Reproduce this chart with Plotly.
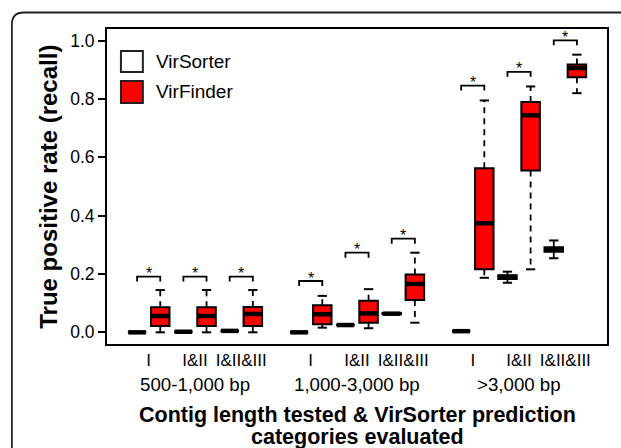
import plotly.graph_objects as go

# ---------------- data ----------------
groups = ["500-1,000 bp", "1,000-3,000 bp", ">3,000 bp"]
categories = ["I", "I&II", "I&II&III"]
series_names = ["VirSorter", "VirFinder"]

# order: group1 (I, I&II, I&II&III), group2 (...), group3 (...)
vs_min = [0.000, 0.002, 0.005, 0.000, 0.025, 0.064, 0.004, 0.170, 0.254]
vs_q1 = [0.000, 0.002, 0.005, 0.000, 0.025, 0.062, 0.004, 0.183, 0.276]
vs_med = [0.000, 0.002, 0.005, 0.000, 0.025, 0.064, 0.004, 0.190, 0.284]
vs_q3 = [0.000, 0.002, 0.005, 0.000, 0.025, 0.066, 0.004, 0.196, 0.292]
vs_max = [0.000, 0.002, 0.005, 0.000, 0.025, 0.064, 0.004, 0.208, 0.315]

vf_min = [0.000, 0.000, 0.000, 0.016, 0.014, 0.033, 0.187, 0.216, 0.820]
vf_q1 = [0.022, 0.022, 0.022, 0.028, 0.033, 0.111, 0.216, 0.555, 0.875]
vf_med = [0.056, 0.056, 0.063, 0.062, 0.065, 0.166, 0.374, 0.744, 0.906]
vf_q3 = [0.086, 0.086, 0.087, 0.093, 0.108, 0.198, 0.563, 0.790, 0.918]
vf_max = [0.145, 0.145, 0.145, 0.125, 0.148, 0.273, 0.795, 0.843, 0.952]

# significance bracket heights (one per VirSorter/VirFinder pair)
bracket_y = [0.191, 0.191, 0.191, 0.176, 0.273, 0.321, 0.846, 0.893, 1.001]

y_ticks = [0.0, 0.2, 0.4, 0.6, 0.8, 1.0]

# ---------------- layout helpers ----------------
FONT = "Liberation Sans, Arial, Helvetica, sans-serif"
W, H = 621, 448
L, R, T, B = 107, 12, 29, 104
PW, PH = W - L - R, H - T - B


def px2x(px):
    return (px - L) / PW


def py2y(py):
    return (H - B - py) / PH


BOXW = 0.8
x_vs, x_vf, x_mid = [], [], []
for g in range(len(groups)):
    for c in range(len(categories)):
        p = 1 + 7 * g + 2 * c
        x_vs.append(p)
        x_vf.append(p + 1)
        x_mid.append(p + 0.5)
group_centers = [sum(x_mid[3 * g:3 * g + 3]) / 3 for g in range(len(groups))]

fig = go.Figure()


def seg_lines(xs, y0s, y1s):
    X, Y = [], []
    for x, a, b in zip(xs, y0s, y1s):
        X += [x, x, None]
        Y += [a, b, None]
    return X, Y


def hsegs(xs, ys, half):
    X, Y = [], []
    for x, y in zip(xs, ys):
        X += [x - half, x + half, None]
        Y += [y, y, None]
    return X, Y


for xs, mn, q1, md, q3, mx, fill in [
    (x_vs, vs_min, vs_q1, vs_med, vs_q3, vs_max, "white"),
    (x_vf, vf_min, vf_q1, vf_med, vf_q3, vf_max, "#ff0000"),
]:
    # dashed whiskers
    X1, Y1 = seg_lines(xs, q3, mx)
    X2, Y2 = seg_lines(xs, q1, mn)
    fig.add_trace(go.Scatter(x=X1 + X2, y=Y1 + Y2, mode="lines",
                             line=dict(color="black", width=1.8, dash="6px,5px"),
                             hoverinfo="skip", showlegend=False))
    # caps (staples)
    X3, Y3 = hsegs(xs, mx, BOXW / 4)
    X4, Y4 = hsegs(xs, mn, BOXW / 4)
    fig.add_trace(go.Scatter(x=X3 + X4, y=Y3 + Y4, mode="lines",
                             line=dict(color="black", width=2),
                             hoverinfo="skip", showlegend=False))
    # box bodies
    fig.add_trace(go.Box(x=xs, q1=q1, median=md, q3=q3,
                         lowerfence=q1, upperfence=q3,
                         width=BOXW, fillcolor=fill,
                         line=dict(color="black", width=2),
                         whiskerwidth=0, boxpoints=False,
                         hoverinfo="skip", showlegend=False))
    # thick medians
    X5, Y5 = hsegs(xs, md, BOXW / 2 - 0.02)
    fig.add_trace(go.Scatter(x=X5, y=Y5, mode="lines",
                             line=dict(color="black", width=4.5),
                             hoverinfo="skip", showlegend=False))

# significance brackets
LEG = 0.017
BX, BY = [], []
for a, b, y in zip(x_vs, x_vf, bracket_y):
    BX += [a, a, b, b, None]
    BY += [y - LEG, y, y, y - LEG, None]
fig.add_trace(go.Scatter(x=BX, y=BY, mode="lines",
                         line=dict(color="black", width=1.8),
                         hoverinfo="skip", showlegend=False))

annotations = []
for xm, y in zip(x_mid, bracket_y):
    annotations.append(dict(x=xm, y=y, xref="x", yref="y", text="*",
                            showarrow=False, yanchor="middle", yshift=3,
                            font=dict(family=FONT, size=16, color="black")))

# group labels
for gc, gname in zip(group_centers, groups):
    annotations.append(dict(x=gc, y=py2y(384), xref="x", yref="paper",
                            text=gname, showarrow=False, yanchor="middle",
                            font=dict(family=FONT, size=18.7, color="black")))

# x-axis title (two lines)
annotations.append(dict(x=0.5, y=py2y(415), xref="paper", yref="paper",
                        text="<b>Contig length tested & VirSorter prediction</b>",
                        showarrow=False, yanchor="middle",
                        font=dict(family=FONT, size=21.5, color="black")))
annotations.append(dict(x=0.5, y=py2y(437), xref="paper", yref="paper",
                        text="<b>categories evaluated</b>",
                        showarrow=False, yanchor="middle",
                        font=dict(family=FONT, size=21.5, color="black")))

# y-axis title
annotations.append(dict(x=px2x(48), y=0.5, xref="paper", yref="paper",
                        text="<b>True positive rate (recall)</b>", textangle=-90,
                        showarrow=False, xanchor="center", yanchor="middle",
                        font=dict(family=FONT, size=24, color="black")))

# manual legend
shapes = []
leg_fill = ["white", "#ff0000"]
leg_rows = [(51, 72), (81, 103)]
for name, fill, (t, b) in zip(series_names, leg_fill, leg_rows):
    shapes.append(dict(type="rect", xref="paper", yref="paper",
                       x0=px2x(121), x1=px2x(143), y0=py2y(b), y1=py2y(t),
                       fillcolor=fill, line=dict(color="#222222", width=2)))
    annotations.append(dict(x=px2x(154), y=py2y((t + b) / 2), xref="paper",
                            yref="paper", text=name, showarrow=False,
                            xanchor="left", yanchor="middle",
                            font=dict(family=FONT, size=19, color="black")))

# outer rounded frame (top-left corner visible only)
xl, yt = px2x(11.5), py2y(12.5)
rx, ry = 12 / PW, 12 / PH
xr, yb = px2x(640), py2y(470)
shapes.append(dict(type="path", xref="paper", yref="paper",
                   path=f"M {xl},{yb} L {xl},{yt - ry} Q {xl},{yt} {xl + rx},{yt} L {xr},{yt}",
                   line=dict(color="#222222", width=1.8)))

fig.update_layout(
    width=W, height=H,
    margin=dict(l=L, r=R, t=T, b=B),
    paper_bgcolor="white", plot_bgcolor="white",
    boxmode="overlay",
    showlegend=False,
    font=dict(family=FONT, color="black"),
    annotations=annotations,
    shapes=shapes,
    xaxis=dict(range=[-0.3, 21.3], tickvals=x_mid,
               ticktext=categories * len(groups), ticks="",
               showgrid=False, zeroline=False, showline=True, mirror=True,
               linecolor="black", linewidth=2,
               tickfont=dict(family=FONT, size=17, color="black")),
    yaxis=dict(range=[-0.04, 1.04], tickvals=y_ticks, tickformat=".1f",
               ticks="outside", ticklen=7, tickwidth=1.5, tickcolor="black",
               showgrid=False, zeroline=False, showline=True, mirror=True,
               linecolor="black", linewidth=2,
               tickfont=dict(family=FONT, size=17.5, color="black")),
)

fig.write_html(
    "out.html",
    config={"displayModeBar": False},
    post_script="document.body.style.margin='0';document.body.style.overflow='hidden';",
)
